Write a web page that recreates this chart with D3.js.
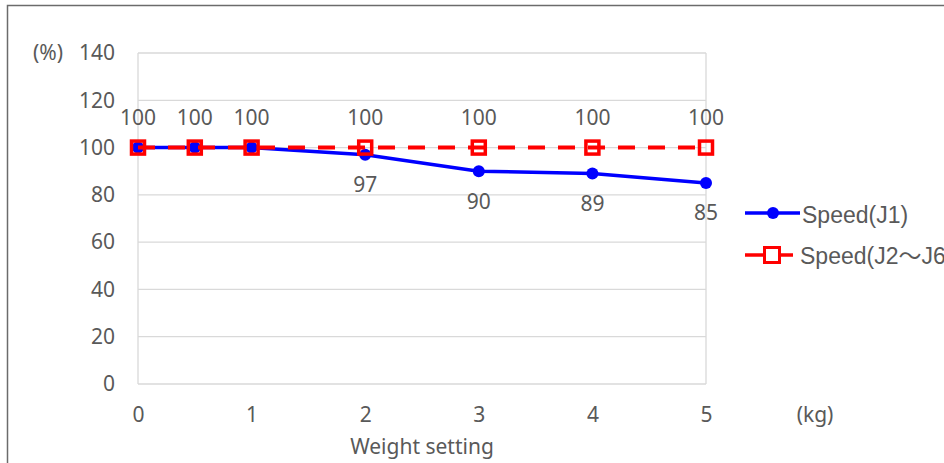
<!DOCTYPE html>
<html>
<head>
<meta charset="utf-8">
<script src="https://cdn.jsdelivr.net/npm/d3@7"></script>
<style>
  body { margin: 0; background: #fff; }
  text { font-family: "Noto Sans", "Open Sans", sans-serif; fill: #595959; }
  .legend text { font-family: "Liberation Sans", "Noto Sans CJK JP", sans-serif; }
</style>
</head>
<body>
<svg class="chart"></svg>
<script>
var width = 944,
    height = 463;

// data
var weights = [0, 0.5, 1, 2, 3, 4, 5];
var speedJ1 = [100, 100, 100, 97, 90, 89, 85];
var speedJ2J6 = [100, 100, 100, 100, 100, 100, 100];
var labelJ1 = [false, false, false, true, true, true, true];
var yTicks = [0, 20, 40, 60, 80, 100, 120, 140];
var xTicks = [0, 1, 2, 3, 4, 5];
var seriesNames = ["Speed(J1)", "Speed(J2～J6)"];

var x = d3.scaleLinear().domain([0, 5]).range([138, 706]);
var y = d3.scaleLinear().domain([0, 140]).range([384, 53]);

var chart = d3.select(".chart")
    .attr("width", width)
    .attr("height", height);

// outer border
chart.append("path")
    .attr("d", "M7.5," + height + "V5.5H" + width)
    .attr("fill", "none")
    .attr("stroke", "#6b6b6b")
    .attr("stroke-width", 1.5);

// grid
chart.append("g")
    .selectAll("line")
    .data(yTicks)
  .enter().append("line")
    .attr("x1", x(0)).attr("x2", x(5))
    .attr("y1", function(d) { return y(d); })
    .attr("y2", function(d) { return y(d); })
    .attr("stroke", "#d9d9d9")
    .attr("stroke-width", 1.3);

chart.append("g")
    .selectAll("line")
    .data([0, 5])
  .enter().append("line")
    .attr("x1", function(d) { return x(d); })
    .attr("x2", function(d) { return x(d); })
    .attr("y1", y(0)).attr("y2", y(140))
    .attr("stroke", "#d9d9d9")
    .attr("stroke-width", 1.3);

// y axis
var yAxis = chart.append("g")
    .attr("transform", "translate(" + 115 + ",0)")
    .call(d3.axisLeft(y).tickValues(yTicks).tickSize(0).tickPadding(0));
yAxis.select(".domain").remove();
yAxis.selectAll("text")
    .attr("fill", "#595959")
    .style("font-size", "21px")
    .style("font-family", null);

chart.append("text")
    .attr("x", 48).attr("y", y(140))
    .attr("dy", "0.35em")
    .attr("text-anchor", "middle")
    .style("font-size", "21px")
    .text("(%)");

// x axis
var xAxis = chart.append("g")
    .attr("transform", "translate(0," + 407 + ")")
    .call(d3.axisBottom(x).tickValues(xTicks).tickFormat(d3.format("d")).tickSize(0).tickPadding(0));
xAxis.select(".domain").remove();
xAxis.selectAll("text")
    .attr("fill", "#595959")
    .style("font-size", "21px")
    .style("font-family", null);

chart.append("text")
    .attr("x", 815).attr("y", 415)
    .attr("dy", "0.35em")
    .attr("text-anchor", "middle")
    .style("font-size", "21px")
    .text("(kg)");

chart.append("text")
    .attr("x", (x(0) + x(5)) / 2).attr("y", 447)
    .attr("dy", "0.35em")
    .attr("text-anchor", "middle")
    .style("font-size", "21px")
    .text("Weight setting");

var line = d3.line()
    .x(function(d, i) { return x(weights[i]); })
    .y(function(d) { return y(d); });

// J1 series
chart.append("path")
    .datum(speedJ1)
    .attr("d", line)
    .attr("fill", "none")
    .attr("stroke", "#0000ff")
    .attr("stroke-width", 3.5)
    .attr("stroke-linejoin", "round");

chart.append("g")
    .selectAll("circle")
    .data(speedJ1)
  .enter().append("circle")
    .attr("cx", function(d, i) { return x(weights[i]); })
    .attr("cy", function(d) { return y(d); })
    .attr("r", 6)
    .attr("fill", "#0000ff");

// J2-J6 series
chart.append("path")
    .datum(speedJ2J6)
    .attr("d", line)
    .attr("fill", "none")
    .attr("stroke", "#ff0000")
    .attr("stroke-width", 4)
    .attr("stroke-dasharray", "17,13");

chart.append("g")
    .selectAll("rect")
    .data(speedJ2J6)
  .enter().append("rect")
    .attr("x", function(d, i) { return x(weights[i]) - 6.5; })
    .attr("y", function(d) { return y(d) - 6.5; })
    .attr("width", 13)
    .attr("height", 13)
    .attr("fill", "none")
    .attr("stroke", "#ff0000")
    .attr("stroke-width", 3.5);

// data labels
chart.append("g")
    .selectAll("text")
    .data(speedJ2J6)
  .enter().append("text")
    .attr("x", function(d, i) { return x(weights[i]); })
    .attr("y", function(d) { return y(d) - 30; })
    .attr("dy", "0.35em")
    .attr("text-anchor", "middle")
    .style("font-size", "21px")
    .text(function(d) { return d; });

chart.append("g")
    .selectAll("text")
    .data(speedJ1.filter(function(d, i) { return labelJ1[i]; }))
  .enter().append("text")
    .attr("x", function(d, i) { return x(weights.filter(function(w, j) { return labelJ1[j]; })[i]); })
    .attr("y", function(d) { return y(d) + 30; })
    .attr("dy", "0.35em")
    .attr("text-anchor", "middle")
    .style("font-size", "21px")
    .text(function(d) { return d; });

// legend
var legend = chart.append("g").attr("class", "legend");

legend.append("line")
    .attr("x1", 745).attr("x2", 800)
    .attr("y1", 213).attr("y2", 213)
    .attr("stroke", "#0000ff").attr("stroke-width", 3.5);
legend.append("circle")
    .attr("cx", 773).attr("cy", 213).attr("r", 6)
    .attr("fill", "#0000ff");
legend.append("text")
    .attr("x", 802).attr("y", 215)
    .attr("dy", "0.35em")
    .style("font-size", "23px")
    .text(seriesNames[0]);

legend.append("line")
    .attr("x1", 745).attr("x2", 793)
    .attr("y1", 255).attr("y2", 255)
    .attr("stroke", "#ff0000").attr("stroke-width", 3.5);
legend.append("rect")
    .attr("x", 764.5).attr("y", 247.5)
    .attr("width", 15).attr("height", 15)
    .attr("fill", "#fff")
    .attr("stroke", "#ff0000").attr("stroke-width", 3);
legend.append("text")
    .attr("x", 800).attr("y", 256)
    .attr("dy", "0.35em")
    .style("font-size", "23px")
    .text(seriesNames[1]);
</script>
</body>
</html>
